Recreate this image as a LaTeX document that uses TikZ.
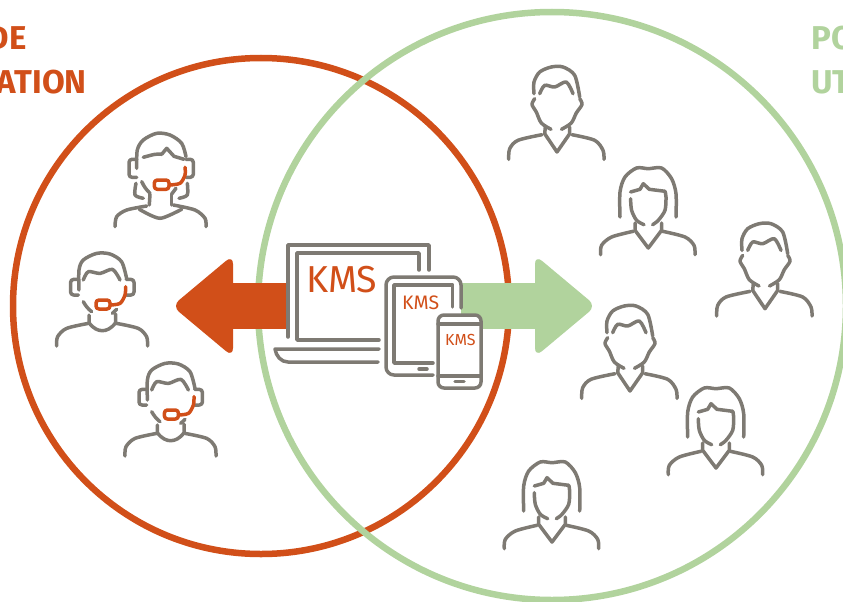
\documentclass[tikz,border=0pt]{standalone}
\usepackage{fontspec}
\setmainfont{Fira Sans}
\definecolor{kmsorange}{HTML}{D14F19}
\definecolor{kmsgreen}{HTML}{B1D39D}
\definecolor{kmsgray}{HTML}{7E7A73}
\tikzset{
  ring/.style={line width=6.5pt},
  icon/.style={kmsgray,line width=3.5pt,line cap=round,line join=round},
  mic/.style={kmsorange,line width=3.5pt,line cap=round,line join=round},
  kms/.style={kmsorange,inner sep=0pt,anchor=base west},
  title/.style={font=\bfseries\fontsize{33}{33}\selectfont,inner sep=0pt},
  man/.pic={
    \draw[icon] plot[smooth] coordinates {(-23,-58.3) (-23,-70) (-17.3,-80) (-5.7,-85) (6,-85) (17.7,-76.7) (22.7,-55)};
    \draw[icon] plot[smooth] coordinates {(-17.3,-58.3) (-12.3,-66.7) (-2.3,-65) (9.3,-70) (16,-58.3)};
    \draw[icon] plot[smooth,tension=.5] coordinates {(-22.3,-53.3) (-25,-47.5) (-20.7,-40) (-15.7,-29) (-6,-22.7)};
    \draw[icon] plot[smooth,tension=.5] coordinates {(22.7,-53.3) (25,-47.5) (19.3,-39) (14.3,-29) (4.5,-22.7)};
    \draw[icon] (-11.7,-25) -- (-12.3,-18.3) -- (0,0) -- (12.7,-18.3) -- (12.7,-25);
    \draw[icon] plot[smooth] coordinates {(-15,-17.3) (-39,-11.7) (-47.3,-3.3) (-48.3,7.3)};
    \draw[icon] plot[smooth] coordinates {(15,-17.3) (37.7,-11.7) (46,-1.7) (47,7.3)};
  },
  woman/.pic={
    \draw[icon] plot[smooth] coordinates {(-28.3,-31) (-28.3,-56) (-23.3,-71) (-11.7,-80) (0,-79.3) (13.3,-80) (23.3,-69.3) (27.7,-54.3) (27.7,-31)};
    \draw[icon] (-17.7,-56) -- (-8.3,-58.7) -- (-5,-64.3) -- (1,-58.7) -- (16.7,-56.7);
    \draw[icon] plot[smooth] coordinates {(16.7,-56.7) (17.7,-51) (16.7,-37.7) (10,-27.7) (4.3,-23.3)};
    \draw[icon] plot[smooth] coordinates {(-17.7,-49.3) (-16.7,-37.7) (-11.7,-27.7) (-4.3,-23.3)};
    \draw[icon] (-13.3,-25) -- (-13.3,-17.7) -- (0,0) -- (13.3,-17.7) -- (13.3,-25);
    \draw[icon] plot[smooth] coordinates {(-15,-16.7) (-36.7,-11) (-46.7,-2.7) (-47.7,6.7)};
    \draw[icon] plot[smooth] coordinates {(14.3,-16.7) (36.7,-11) (45.7,-2.7) (46.7,6.7)};
  },
  agentm/.pic={
    \draw[icon] plot[smooth] coordinates {(-23.3,-40.7) (-23.3,-60.7) (-19,-70.7) (-5.7,-77.3) (7.7,-76.7) (19.3,-69) (24.3,-52.3)};
    \draw[icon] plot[smooth] coordinates {(-19,-50.7) (-14,-59) (-2.3,-57.3) (10.3,-61.3) (17.7,-50.7)};
    \draw[icon,rounded corners=3pt] (-24,-51.3) -- (-31.7,-51.3) -- (-31.7,-35.7) -- (-24,-35.7);
    \draw[icon,rounded corners=3pt] (24,-51.3) -- (31.7,-51.3) -- (31.7,-35.7) -- (24,-35.7);
    \draw[icon] (-19,-29) to[bend right=10] (-10.7,-19);
    \draw[icon] (14.3,-21.3) -- (10,-17.3);
    \draw[icon] (-13.3,-15.7) -- (-13.3,-8) .. controls (-9,-2) and (-4,0) .. (0,0) .. controls (4,0) and (9,-2) .. (13.3,-8) -- (13.3,-16.7);
    \draw[icon] plot[smooth] coordinates {(-14,-7.3) (-35.7,-2.3) (-44.7,6) (-45.7,15.3)};
    \draw[icon] plot[smooth] coordinates {(14.3,-7.3) (36,-2.3) (44.3,6) (45.3,15.3)};
    \draw[mic,rounded corners=3pt] (-6.3,-30.7) rectangle (7.7,-21.7);
    \draw[mic] plot[smooth] coordinates {(7.7,-25.7) (17.7,-27.3) (22.7,-35.7) (23.3,-44)};
  },
  agentf/.pic={
    \draw[icon] plot[smooth] coordinates {(-23.3,-45) (-22.7,-63.3) (-16.7,-73.3) (-3.3,-80) (10,-78.3) (21.7,-70) (26,-56.7)};
    \draw[icon] plot[smooth] coordinates {(-16.7,-56) (-5,-59) (1.7,-59)};
    \draw[icon] (1.7,-59) -- (6.7,-65) -- (14,-57) -- (24,-54);
    \draw[icon,rounded corners=3pt] (-23.3,-54) -- (-31,-54) -- (-31,-36) -- (-23.3,-36);
    \draw[icon,rounded corners=3pt] (26,-54) -- (33.3,-54) -- (33.3,-36) -- (26,-36);
    \draw[icon] (-18.3,-31.7) to[bend right=10] (-10,-20);
    \draw[icon] (16,-25) -- (11.7,-19.3);
    \draw[icon] plot[smooth] coordinates {(-24,-30) (-25,-18.3) (-16.7,-15)};
    \draw[icon] plot[smooth] coordinates {(27.3,-30) (27.3,-18.3) (19,-15)};
    \draw[icon] (-10,-19.3) -- (-10.7,-8.3);
    \draw[icon] (11.7,-19.3) -- (11.7,-8.3);
    \draw[icon] plot[smooth] coordinates {(-20.7,-4) (-10,1.7) (0,5) (10,1.7) (21.7,-4)};
    \draw[icon] plot[smooth] coordinates {(-13.3,-7.3) (-33.3,-3.3) (-43.3,3.3) (-45,13.3)};
    \draw[icon] plot[smooth] coordinates {(13.3,-8.3) (35,-3.3) (45,5) (46,13.3)};
    \draw[mic,rounded corners=3pt] (-5.7,-33.3) rectangle (9,-24);
    \draw[mic] plot[smooth] coordinates {(9,-28.3) (20,-30) (25,-38.3) (25,-46)};
  }
}

\begin{document}
\begin{tikzpicture}[x=1pt,y=-1pt]
\useasboundingbox (0,0) rectangle (843,602);

\draw[ring,kmsorange] (261,306) circle[radius=248];
\draw[ring,kmsgreen] (552,306) circle[radius=294];

\fill[kmsorange] (230,283) rectangle (288,329);
\fill[kmsorange,rounded corners=9pt] (233,255) -- (172,306) -- (233,357) -- cycle;
\fill[kmsgreen] (461,283) rectangle (538,329);
\fill[kmsgreen,rounded corners=9pt] (535,255) -- (596,306) -- (535,357) -- cycle;

\node[title,kmsorange,anchor=base east] (de) at (27,50) {DE};
\node[title,kmsorange,anchor=base east] (ation) at (87,93) {ATION};
\node[title,kmsgreen,anchor=base west] (po) at (811,50) {PO};
\node[title,kmsgreen,anchor=base west] (ut) at (811,93) {UT};

\draw[icon] (288,337) -- (288,245) -- (429,245) -- (429,270);
\draw[icon] (419,270) -- (419,253) -- (297,253) -- (297,340) -- (379,340);
\draw[icon] (379,349) -- (275,349) .. controls (276,356) and (281,362) .. (288,362) -- (378,362);

\draw[icon,rounded corners=8pt] (433,375) -- (386,375) -- (386,277) -- (461,277) -- (461,308);
\draw[icon] (452.7,307) -- (452.7,285) -- (394,285) -- (394,363) -- (433,363);
\draw[icon] (419,369) -- (427,369);

\draw[icon,rounded corners=6pt,fill=white] (438,315) rectangle (481,388);
\draw[icon] (438,324) -- (481,324);
\draw[icon] (438,376) -- (481,376);
\draw[icon] (455,381.5) -- (464,381.5);

\node[kms,font=\fontsize{37.5}{37.5}\selectfont] (kmsa) at (306,292) {KMS};
\node[kms,font=\fontsize{19.5}{19.5}\selectfont] (kmsb) at (402,309) {KMS};
\node[kms,font=\fontsize{16}{16}\selectfont] (kmsc) at (445,345) {KMS};

\pic (agent1) at (160,213.3) {agentf};
\pic (agent2) at (102.3,330.7) {agentm};
\pic (agent3) at (170.7,440.7) {agentm};

\pic (man1) at (557,152) {man};
\pic (man2) at (630,391) {man};
\pic (man3) at (765,308.7) {man};
\pic (woman1) at (648.3,248) {woman};
\pic (woman2) at (716,468) {woman};
\pic (woman3) at (552,542) {woman};
\end{tikzpicture}
\end{document}
